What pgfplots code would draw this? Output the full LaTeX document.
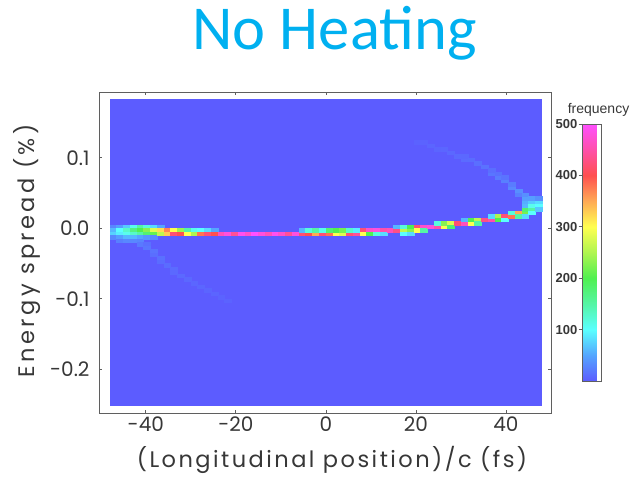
\documentclass[border=0pt]{standalone}
\usepackage{fontspec}
\usepackage{pgfplots}
\pgfplotsset{compat=1.18}
\newfontfamily\labelfont{Poppins}
\newfontfamily\spacedfont{Poppins}[LetterSpace=11]
\newfontfamily\yspacedfont{Poppins}[LetterSpace=15]
\newfontfamily\titlefont{Carlito}
\newfontfamily\cbfont{Liberation Sans}
\definecolor{bgblue}{RGB}{92,92,255}
\definecolor{titleblue}{RGB}{0,176,240}
\definecolor{framegray}{RGB}{95,95,95}
\definecolor{textgray}{RGB}{55,55,55}

\pgfplotstableread{
x y v
-47.25 0.0025 30
-47.25 -0.0025 60
-47.25 -0.0075 75
-47.25 -0.0125 30
-45.75 0.0025 45
-45.75 -0.0025 100
-45.75 -0.0075 90
-45.75 -0.0125 45
-45.75 -0.0175 25
-44.25 0.0025 70
-44.25 -0.0025 130
-44.25 -0.0075 110
-44.25 -0.0125 60
-44.25 -0.0175 30
-42.75 0.0025 110
-42.75 -0.0025 170
-42.75 -0.0075 130
-42.75 -0.0125 60
-42.75 -0.0175 30
-41.25 0.0025 150
-41.25 -0.0025 200
-41.25 -0.0075 150
-41.25 -0.0125 50
-41.25 -0.0175 28
-41.25 -0.0225 20
-39.75 0.0025 120
-39.75 -0.0025 230
-39.75 -0.0075 180
-39.75 -0.0125 40
-39.75 -0.0225 14
-39.75 -0.0275 18
-38.25 0.0025 80
-38.25 -0.0025 280
-38.25 -0.0075 210
-38.25 -0.0125 30
-38.25 -0.0325 16
-38.25 -0.0375 12
-36.75 0.0025 50
-36.75 -0.0025 320
-36.75 -0.0075 260
-36.75 -0.0425 14
-36.75 -0.0475 11
-35.25 -0.0025 370
-35.25 -0.0075 330
-35.25 -0.0525 11
-33.75 -0.0025 300
-33.75 -0.0075 420
-33.75 -0.0575 10
-33.75 -0.0625 9
-32.25 -0.0025 240
-32.25 -0.0075 400
-32.25 -0.0675 9
-30.75 -0.0025 150
-30.75 -0.0075 300
-30.75 -0.0725 8
-29.25 -0.0025 110
-29.25 -0.0075 250
-29.25 -0.0775 7
-27.75 -0.0025 100
-27.75 -0.0075 380
-27.75 -0.0825 7
-26.25 -0.0025 80
-26.25 -0.0075 420
-26.25 -0.0875 6
-24.75 -0.0025 50
-24.75 -0.0075 400
-24.75 -0.0925 6
-23.25 -0.0075 460
-23.25 -0.0975 5
-21.75 -0.0075 480
-21.75 -0.1025 5
-20.25 -0.0075 440
-18.75 -0.0075 490
-17.25 -0.0075 470
-15.75 -0.0075 500
-14.25 -0.0075 480
-12.75 -0.0075 460
-11.25 -0.0075 490
-9.75 -0.0075 470
-8.25 -0.0075 440
-6.75 -0.0075 480
-5.25 -0.0075 420
-5.25 -0.0025 60
-3.75 -0.0075 400
-3.75 -0.0025 120
-2.25 -0.0075 350
-2.25 -0.0025 150
-0.75 -0.0075 420
-0.75 -0.0025 110
0.75 -0.0075 380
0.75 -0.0025 180
2.25 -0.0075 300
2.25 -0.0025 200
3.75 -0.0075 280
3.75 -0.0025 220
5.25 -0.0075 420
5.25 -0.0025 130
6.75 -0.0075 440
6.75 -0.0025 90
8.25 -0.0025 420
8.25 -0.0075 300
9.75 -0.0025 470
9.75 -0.0075 200
11.25 -0.0025 480
11.25 -0.0075 120
12.75 -0.0025 450
12.75 -0.0075 80
14.25 -0.0025 460
15.75 -0.0025 430
15.75 0.0025 60
17.25 -0.0025 260
17.25 0.0025 120
17.25 -0.0075 100
18.75 -0.0025 230
18.75 0.0025 200
18.75 -0.0075 80
20.25 0.0025 420
20.25 -0.0025 300
20.25 0.1225 4
21.75 0.0025 470
21.75 -0.0025 150
21.75 0.1225 5
23.25 0.0025 480
23.25 0.1175 6
24.75 0.0025 450
24.75 0.0075 120
24.75 0.1125 6
26.25 0.0025 300
26.25 0.0075 230
26.25 0.1125 7
27.75 0.0075 280
27.75 0.0025 180
27.75 0.1075 8
29.25 0.0075 420
29.25 0.1025 9
30.75 0.0075 460
30.75 0.0125 60
30.75 0.0975 10
30.75 0.1025 8
32.25 0.0075 300
32.25 0.0125 200
32.25 0.0975 11
33.75 0.0125 260
33.75 0.0075 150
33.75 0.0925 13
35.25 0.0125 430
35.25 0.0875 15
36.75 0.0125 450
36.75 0.0175 80
36.75 0.0775 18
36.75 0.0825 12
38.25 0.0175 250
38.25 0.0125 200
38.25 0.0725 22
38.25 0.0775 14
39.75 0.0175 420
39.75 0.0125 100
39.75 0.0675 25
39.75 0.0725 16
41.25 0.0175 380
41.25 0.0225 120
41.25 0.0575 30
41.25 0.0625 22
42.75 0.0225 350
42.75 0.0175 150
42.75 0.0525 35
42.75 0.0475 25
44.25 0.0225 220
44.25 0.0275 180
44.25 0.0175 80
44.25 0.0325 60
44.25 0.0375 55
44.25 0.0425 45
44.25 0.0475 35
45.75 0.0275 150
45.75 0.0325 110
45.75 0.0225 100
45.75 0.0375 70
45.75 0.0425 45
47.25 0.0325 100
47.25 0.0375 80
47.25 0.0275 70
47.25 0.0425 35
}\cells

\begin{document}
\begin{tikzpicture}
\useasboundingbox (0,0) rectangle (636pt,-476pt);
\node[anchor=base, font=\titlefont\fontsize{62.5}{70}\selectfont, text=titleblue] at (334.5pt,-50pt) {No Heating};
\begin{axis}[
  at={(99pt,-413pt)}, anchor=south west,
  scale only axis, width=452pt, height=321pt,
  xmin=-50.4, xmax=50, ymin=-0.262, ymax=0.1933,
  axis line style={framegray, line width=1pt},
  tick style={framegray, line width=0.8pt},
  tick align=inside, major tick length=3pt,
  xtick={-40,-20,0,20,40}, ytick={-0.2,-0.1,0,0.1},
  y tick label style={/pgf/number format/fixed, /pgf/number format/fixed zerofill, /pgf/number format/precision=1},
  /pgf/number format/assume math mode=true,
  ticklabel style={font=\labelfont\fontsize{20}{24}\selectfont, text=textgray},
  yticklabel style={xshift=-6pt},
  xlabel={(Longitudinal position)/c (fs)},
  ylabel={Energy spread (\%)},
  xlabel style={font=\spacedfont\fontsize{22.5}{26}\selectfont, text=textgray, at={(axis description cs:0.5155,-0.146)}, anchor=center},
  ylabel style={font=\yspacedfont\fontsize{22.5}{26}\selectfont, text=textgray, at={(axis description cs:-0.159,0.505)}, anchor=center},
  colormap={freq}{rgb255=(92,92,255) rgb255=(85,165,255) rgb255=(90,255,255) rgb255=(85,245,165) rgb255=(80,240,80) rgb255=(175,245,80) rgb255=(255,255,80) rgb255=(255,170,85) rgb255=(255,80,80) rgb255=(255,80,170) rgb255=(255,80,255)},
  point meta min=0, point meta max=500,
  colorbar,
  colorbar style={
    at={(parent axis.north east)}, anchor=north west,
    xshift=23pt, yshift=-32pt, width=19pt, height=257pt,
    ytick={100,200,300,400,500},
    yticklabel pos=left, ytick pos=left,
    tick align=outside, major tick length=4pt,
    axis line style={framegray, line width=0.8pt},
    tick style={framegray, line width=0.8pt},
    /pgf/number format/assume math mode=true,
    yticklabel style={font=\cbfont\bfseries\fontsize{13}{15}\selectfont, text=textgray, inner sep=1pt},
    title={frequency},
    title style={font=\cbfont\fontsize{14}{16}\selectfont, text=textgray, xshift=6.5pt, yshift=-2pt},
  },
]
\addplot[fill=bgblue, draw=none, forget plot] coordinates {(-48,-0.252) (48,-0.252) (48,0.183) (-48,0.183)} -- cycle;
\addplot[scatter, only marks, mark=square*, mark size=3.375pt, point meta=explicit,
  scatter/use mapped color={draw=mapped color, fill=mapped color},
  every mark/.append style={yscale=0.5222, line width=0.3pt}]
  table[x=x, y=y, meta=v] {\cells};
\end{axis}
\end{tikzpicture}
\end{document}
